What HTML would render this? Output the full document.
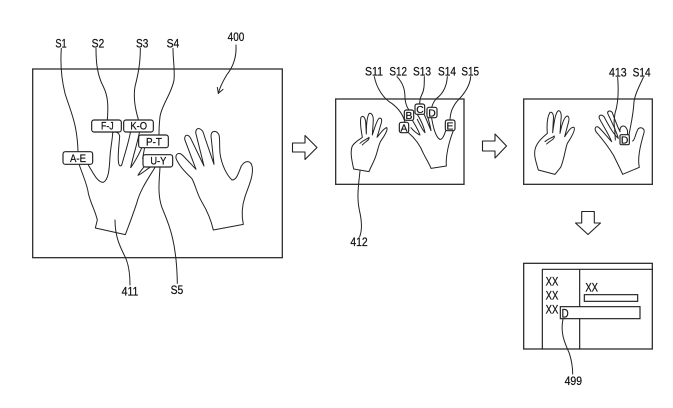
<!DOCTYPE html>
<html>
<head>
<meta charset="utf-8">
<style>
html,body{margin:0;padding:0;background:#fff;width:673px;height:408px;overflow:hidden}
svg{display:block}
text{font-family:"Liberation Sans",sans-serif;fill:#111;stroke:#111;stroke-width:.7}
.l{fill:none;stroke:#222;stroke-linejoin:round;stroke-linecap:round}
.b{fill:none;stroke:#333}
.k{fill:#fff;stroke:#222}
</style>
</head>
<body>
<svg width="673" height="408" viewBox="0 0 673 408" xmlns="http://www.w3.org/2000/svg">
<!-- Left panel -->
<g transform="translate(20,30) scale(.33333)">
  <rect x="38" y="117" width="749" height="566" class="b" stroke-width="4"/>
  <g class="l" stroke-width="3">
    <path d="M124 55C120 110 125 150 135 190C150 240 172 280 174 365"/>
    <path d="M228 55C228 100 232 135 250 170C265 200 265 230 262 270"/>
    <path d="M361 55C361 100 355 130 345 170C340 200 345 235 355 268"/>
    <path d="M459 55C459 90 465 120 462 150C455 190 425 225 420 260C417 285 417 300 417 316"/>
    <path d="M420 412C418 450 412 490 425 530C440 570 470 620 472 760"/>
    <path d="M285 570C285 620 300 650 315 680C325 700 330 730 330 765"/>
    <path d="M648 45C650 80 640 110 620 135C608 155 600 170 595 190"/>
    <path d="M595 190L592 172M595 190L609 178"/>
    <path d="M178 405C190 440 202 465 205 490C212 520 225 540 232 570L226 594L316 614C325 590 335 565 350 520C360 480 385 445 405 412"/>
    <path d="M205 405C225 440 235 457 250 457C265 450 268 420 270 380C272 350 278 325 278 308C284 304 296 306 299 318C297 350 292 380 296 400C298 410 304 410 306 402C315 370 325 340 331 308"/>
    <path d="M358 308C352 340 340 375 332 413C345 395 358 370 366 352"/>
    <path d="M374 352L368 385M372 410C365 420 358 428 354 436C365 432 380 418 390 412"/>
    <path d="M580 600L670 583C665 560 665 530 675 500C685 470 700 440 697 412C693 390 676 390 664 408C655 430 650 450 636 450C620 435 605 405 600 370C598 345 600 325 597 315C590 300 574 300 573 318L582 403L553 318C548 293 528 288 527 308L552 408L512 325C505 312 494 312 494 328L528 418L490 378C478 365 466 370 468 385C478 410 500 430 515 445C525 460 530 490 545 515C560 540 572 565 580 600Z"/>
  </g>
  <g>
    <rect x="129" y="365" width="89" height="38" rx="7" class="k" stroke-width="3.500"/>
    <rect x="215" y="270" width="89" height="36" rx="7" class="k" stroke-width="3.500"/>
    <rect x="311" y="270" width="89" height="36" rx="7" class="k" stroke-width="3.500"/>
    <rect x="356" y="315" width="89" height="38" rx="7" class="k" stroke-width="3.500"/>
    <rect x="369" y="374" width="89" height="37" rx="7" class="k" stroke-width="3.500"/>
  </g>
  <g font-size="33">
    <text x="150" y="396" textLength="48" lengthAdjust="spacingAndGlyphs">A-E</text>
    <text x="243" y="299" textLength="38" lengthAdjust="spacingAndGlyphs">F-J</text>
    <text x="331" y="299" textLength="50" lengthAdjust="spacingAndGlyphs">K-O</text>
    <text x="378" y="346" textLength="48" lengthAdjust="spacingAndGlyphs">P-T</text>
    <text x="391" y="404" textLength="48" lengthAdjust="spacingAndGlyphs">U-Y</text>
  </g>
  <g font-size="36">
    <text x="106" y="52" textLength="34" lengthAdjust="spacingAndGlyphs">S1</text>
    <text x="215" y="52" textLength="38" lengthAdjust="spacingAndGlyphs">S2</text>
    <text x="348" y="52" textLength="37" lengthAdjust="spacingAndGlyphs">S3</text>
    <text x="440" y="52" textLength="38" lengthAdjust="spacingAndGlyphs">S4</text>
    <text x="623" y="33" textLength="50" lengthAdjust="spacingAndGlyphs">400</text>
    <text x="305" y="796" textLength="50" lengthAdjust="spacingAndGlyphs">411</text>
    <text x="452" y="792" textLength="38" lengthAdjust="spacingAndGlyphs">S5</text>
  </g>
</g>
<!-- Block arrows -->
<g class="l" stroke-width="1.100" fill="#fff">
  <path d="M292.500 143H305V135.500L317 147.500L305 159.500V152H292.500Z"/>
  <path d="M482.500 141H495V134L506.500 146L495 158V151H482.500Z"/>
  <path d="M581.700 211.500H594.300V223H600.500L588 234.500L575.500 223H581.700Z"/>
</g>
<!-- Middle panel -->
<g transform="translate(325,60) scale(.33333)">
  <rect x="32" y="117" width="385" height="256" class="b" stroke-width="4"/>
  <g class="l" stroke-width="3">
    <path d="M148 50C155 85 175 115 200 130C220 145 235 165 240 188"/>
    <path d="M216 50C235 70 240 90 240 115C242 135 248 145 252 150"/>
    <path d="M298 50C298 75 298 90 290 105C285 115 284 122 284 132"/>
    <path d="M367 50C365 80 355 100 335 115C325 125 322 135 320 142"/>
    <path d="M437 50C435 80 415 105 395 125C380 145 376 160 375 180"/>
    <path d="M105 333C100 380 95 410 103 450C110 480 112 510 104 530"/>
    <path d="M250 218C270 235 285 255 295 280C305 300 312 310 318 325L364 318C362 290 370 250 385 212"/>
    <path d="M362 212C358 225 352 240 344 238C332 230 325 205 320 175"/>
    <path d="M258 203C265 212 277 222 285 225C280 210 270 195 262 180M277 178C285 195 293 210 300 218C297 200 285 175 275 160M297 162C305 180 313 200 318 212C316 195 308 172 305 160"/>
    <path d="M86 327C80 300 75 275 82 258C90 245 105 238 112 232C108 210 104 185 108 172C114 165 120 172 122 185L124 222C124 195 125 170 133 160C140 158 145 168 145 180L142 225C148 205 155 182 162 175C170 172 172 180 168 192L156 232C165 222 175 205 185 203C190 208 178 228 168 242C160 255 158 275 150 295C142 315 135 325 132 335Z"/>
    <path d="M105 250C115 240 125 238 132 232C135 240 120 245 112 255"/>
  </g>
  <g>
    <rect x="223" y="187" width="28" height="31" rx="6" class="k" stroke-width="3.500"/>
    <rect x="238" y="150" width="28" height="31" rx="6" class="k" stroke-width="3.500"/>
    <rect x="270" y="132" width="29" height="31" rx="6" class="k" stroke-width="3.500"/>
    <rect x="306" y="142" width="30" height="31" rx="6" class="k" stroke-width="3.500"/>
    <rect x="361" y="180" width="29" height="32" rx="6" class="k" stroke-width="3.500"/>
  </g>
  <g font-size="31" text-anchor="middle">
    <text x="237" y="214">A</text>
    <text x="252" y="177">B</text>
    <text x="285" y="159">C</text>
    <text x="321" y="169">D</text>
    <text x="375" y="208">E</text>
  </g>
  <g font-size="36">
    <text x="120" y="47" textLength="54" lengthAdjust="spacingAndGlyphs">S11</text>
    <text x="193" y="47" textLength="53" lengthAdjust="spacingAndGlyphs">S12</text>
    <text x="264" y="47" textLength="54" lengthAdjust="spacingAndGlyphs">S13</text>
    <text x="339" y="47" textLength="54" lengthAdjust="spacingAndGlyphs">S14</text>
    <text x="409" y="47" textLength="53" lengthAdjust="spacingAndGlyphs">S15</text>
    <text x="76" y="558" textLength="52" lengthAdjust="spacingAndGlyphs">412</text>
  </g>
</g>
<!-- Right top panel -->
<g transform="translate(510,60) scale(.33333)">
  <rect x="41" y="117" width="386" height="256" class="b" stroke-width="4"/>
  <g class="l" stroke-width="3">
    <path d="M323 52C326 90 325 130 315 160C313 175 310 190 314 205"/>
    <path d="M400 52C390 75 375 100 372 125C370 165 362 195 357 225"/>
    <path d="M314 205L316 240"/>
    <path d="M258 215C275 235 295 260 310 285C320 305 330 325 338 343L388 322C382 295 390 260 402 218C405 205 393 200 385 206C376 220 375 240 368 243"/>
    <path d="M258 215C252 205 258 196 266 202C280 215 295 235 305 245C295 220 275 190 268 175C265 165 275 162 282 170C295 195 312 225 325 235C318 210 302 180 293 160C292 152 302 150 307 158C315 180 325 205 330 215"/>
    <path d="M330 215C328 202 336 196 344 199C352 205 354 215 352 225"/>
    <path d="M85 330C78 305 70 285 76 265C82 245 100 230 112 220C110 195 112 170 120 157C128 155 132 165 130 180L128 218C132 190 135 160 145 152C153 152 155 165 153 178L150 220C155 195 162 170 172 168C178 170 178 180 174 192L164 230C172 218 182 200 192 202C197 210 182 235 172 250C165 270 162 300 152 322L135 343Z"/>
    <path d="M105 245C115 235 125 235 133 228C135 238 118 243 110 252"/>
  </g>
  <rect x="330" y="224" width="28" height="30" rx="4" class="k" stroke-width="3.500"/>
  <text x="344" y="250" font-size="31" text-anchor="middle">D</text>
  <g font-size="36">
    <text x="297" y="50" textLength="53" lengthAdjust="spacingAndGlyphs">413</text>
    <text x="368" y="50" textLength="54" lengthAdjust="spacingAndGlyphs">S14</text>
  </g>
</g>
<!-- Right bottom panel -->
<g transform="translate(510,210) scale(.33333)">
  <rect x="41" y="160" width="386" height="257" class="b" stroke-width="4"/>
  <path d="M97 178H427M97 178V417M209 178V417" class="l" stroke-width="3.500"/>
  <rect x="223" y="254" width="160" height="20" class="k" stroke-width="3.500"/>
  <rect x="151" y="290" width="239" height="36" class="k" stroke-width="3.500"/>
  <path d="M159 327C150 370 165 400 178 430C186 455 188 475 188 492" class="l" stroke-width="3"/>
  <g font-size="36">
    <text x="107" y="226" textLength="38" lengthAdjust="spacingAndGlyphs">XX</text>
    <text x="107" y="268" textLength="38" lengthAdjust="spacingAndGlyphs">XX</text>
    <text x="107" y="310" textLength="38" lengthAdjust="spacingAndGlyphs">XX</text>
    <text x="226" y="245" textLength="38" lengthAdjust="spacingAndGlyphs">XX</text>
    <text x="155" y="322" textLength="21" lengthAdjust="spacingAndGlyphs">D</text>
    <text x="164" y="525" textLength="52" lengthAdjust="spacingAndGlyphs">499</text>
  </g>
</g>
</svg>
</body>
</html>
